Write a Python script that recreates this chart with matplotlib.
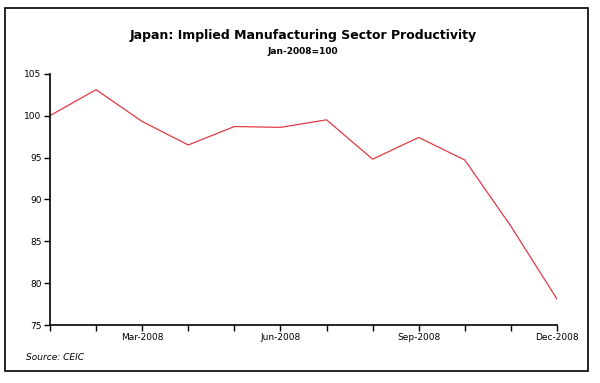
import matplotlib.pyplot as plt
from matplotlib.patches import Rectangle

months = ["Jan", "Feb", "Mar", "Apr", "May", "Jun", "Jul", "Aug", "Sep", "Oct", "Nov", "Dec"]
productivity = [100.0, 103.1, 99.3, 96.5, 98.7, 98.6, 99.5, 94.8, 97.4, 94.7, 86.8, 78.1]
tick_labels = ["", "", "Mar-2008", "", "", "Jun-2008", "", "", "Sep-2008", "", "", "Dec-2008"]
y_ticks = [75, 80, 85, 90, 95, 100, 105]

fig = plt.figure(figsize=(6, 3.83), dpi=100)
ax = fig.add_axes([0.0833, 0.1514, 0.845, 0.656])

x = list(range(len(months)))
ax.plot(x, productivity, color="#e23a44", linewidth=0.9)

ax.set_xlim(0, 11)
ax.set_ylim(75, 105)
ax.set_xticks(x)
ax.set_xticklabels(tick_labels)
ax.set_yticks(y_ticks)

for side in ["top", "right"]:
    ax.spines[side].set_visible(False)
ax.spines["left"].set_linewidth(1.2)
ax.spines["bottom"].set_linewidth(1.2)
ax.tick_params(axis="both", length=4, width=1, labelsize=6.5, colors="black", pad=2)

# outer frame around the chart
fig.patches.append(Rectangle((5 / 600, 1 - 371 / 383), 583 / 600, 363 / 383,
                             transform=fig.transFigure, fill=False,
                             edgecolor="black", linewidth=1.2))

fig.text(0.505, 1 - 35 / 383, "Japan: Implied Manufacturing Sector Productivity",
         ha="center", va="center", fontsize=9, fontweight="bold")
fig.text(0.505, 1 - 52 / 383, "Jan-2008=100", ha="center", va="center",
         fontsize=6.5, fontweight="bold")
fig.text(26 / 600, 1 - 358 / 383, "Source: CEIC", ha="left", va="center",
         fontsize=6.5, style="italic")

fig.savefig("out.png", dpi=100)
